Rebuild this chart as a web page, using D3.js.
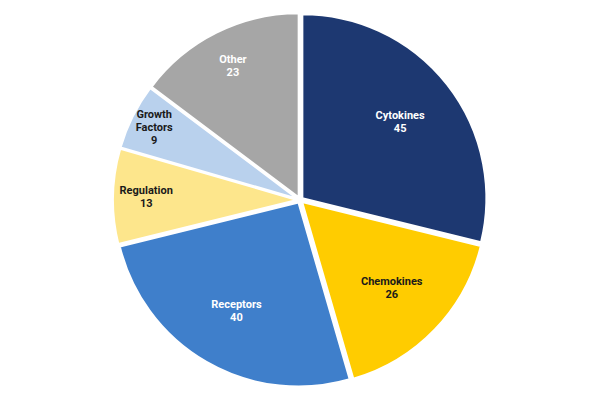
<!DOCTYPE html>
<html>
<head>
<meta charset="utf-8">
<script src="https://cdn.jsdelivr.net/npm/d3@7"></script>
<style>
  html, body { margin: 0; padding: 0; background: #ffffff; }
  svg { display: block; }
</style>
</head>
<body>
<svg id="chart" width="600" height="400"></svg>
<script>
const categories = ["Cytokines", "Chemokines", "Receptors", "Regulation", "Growth Factors", "Other"];
const values = [45, 26, 40, 13, 9, 23];
const colors = ["#1d3871", "#ffcc00", "#3f7fcb", "#fde68c", "#b9d1ed", "#a6a6a6"];
const textColors = ["#ffffff", "#1a1a1a", "#ffffff", "#1a1a1a", "#1a1a1a", "#ffffff"];

const W = 600, H = 400;
const cx = 300, cy = 200, R = 184, explode = 3;

const svg = d3.select("#chart");
const g = svg.append("g").attr("transform", `translate(${cx},${cy})`);

const data = categories.map((c, i) => ({ name: c, value: values[i], color: colors[i], text: textColors[i] }));

const pie = d3.pie().value(d => d.value).sort(null).startAngle(0).endAngle(2 * Math.PI);
const arcs = pie(data);
const arc = d3.arc().innerRadius(0).outerRadius(R);

// label radius fraction depends on slice angular size
const labelFrac = d3.scaleLinear().domain([0.36, 0.52, 0.93, 1.04]).range([0.87, 0.82, 0.80, 0.675]).clamp(true);

const slice = g.selectAll("g.slice").data(arcs).enter().append("g")
  .attr("class", "slice")
  .attr("transform", d => {
    const a = (d.startAngle + d.endAngle) / 2;
    return `translate(${explode * Math.sin(a)},${-explode * Math.cos(a)})`;
  });

slice.append("path")
  .attr("d", arc)
  .attr("fill", d => d.data.color)
  .attr("stroke", "#ffffff")
  .attr("stroke-width", 2)
  .attr("stroke-linejoin", "round");

const lineH = 13;
slice.each(function(d) {
  const span = d.endAngle - d.startAngle;
  const a = (d.startAngle + d.endAngle) / 2;
  const r = R * labelFrac(span);
  const x = r * Math.sin(a), y = -r * Math.cos(a);
  const nameLines = span < 0.45 ? d.data.name.split(" ") : [d.data.name];
  const lines = nameLines.concat([String(d.data.value)]);
  const t = d3.select(this).append("text")
    .attr("text-anchor", "middle")
    .attr("font-family", "Roboto, 'Noto Sans', sans-serif")
    .attr("font-weight", "700")
    .attr("font-size", "11px")
    .attr("fill", d.data.text);
  const y0 = y - (lines.length - 1) * lineH / 2;
  lines.forEach((ln, i) => {
    t.append("tspan")
      .attr("x", x)
      .attr("y", y0 + i * lineH)
      .attr("dy", "0.35em")
      .text(ln);
  });
});
</script>
</body>
</html>
